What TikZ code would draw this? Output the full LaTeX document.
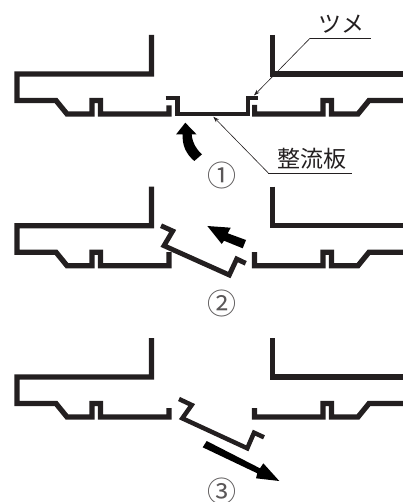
\documentclass[tikz,border=0pt]{standalone}
\usepackage{fontspec}
\usetikzlibrary{arrows.meta}
\newfontfamily\cjk{Noto Sans CJK JP}
\definecolor{ink}{HTML}{231F20}
\tikzset{
  wall/.style={draw=ink,line width=5.3pt,miter limit=10,line join=miter},
  flap/.style={draw=ink,line width=4.9pt,line join=miter},
  slit/.style={draw=white,line width=1.5pt},
  leader/.style={draw=ink,line width=0.6pt},
  leaderarrow/.style={draw=ink,line width=0.6pt,-{Stealth[length=6pt,width=4pt]}},
  bigarrow/.style={fill=black,draw=none},
  lab/.style={font=\cjk\fontsize{23}{24}\selectfont,text=ink,inner sep=0pt},
  num/.style={font=\cjk\fontsize{29}{30}\selectfont,text=ink!75,inner sep=0pt}
}
\newcommand{\frameparts}[3]{% y offset, left stub top, right stub top
  \begin{scope}[yshift=-#1pt]
    \draw[wall] (151.5,35) -- (151.5,74) -- (17,74) -- (17,100.5) -- (56,100.5) -- (67,114) -- (92,114) -- (92,100.5) -- (100.5,100.5) -- (100.5,114) -- (169,114) -- (169,#2);
    \draw[wall] (272.5,35) -- (272.5,74) -- (403,74);
    \draw[wall] (403,100.5) -- (369,100.5) -- (358,114) -- (331.5,114) -- (331.5,100.5) -- (323,100.5) -- (323,114) -- (254.5,114) -- (254.5,#3);
    \draw[slit] (96.3,104) -- (96.3,117.5);
    \draw[slit] (327.6,104) -- (327.6,117.5);
  \end{scope}
}
\begin{document}
\begin{tikzpicture}[x=1pt,y=-1pt]
\useasboundingbox (0,0) rectangle (403,502);
% panel 1
\frameparts{0}{105.5}{105}
\draw[slit,line width=2pt] (173.3,103) -- (173.3,118);
\draw[slit,line width=2pt] (251.2,103) -- (251.2,118);
\draw[flap] (165.5,98) -- (177.5,98) -- (177.5,114) -- (248,114) -- (248,98) -- (258,98);
\fill[bigarrow] (185.3,122.7) -- (196.7,134.5) -- (191.7,134.5) .. controls (192.5,143) and (196,149) .. (202,154.3) -- (194.3,161) .. controls (186,154) and (182,145) .. (182.7,134.5) -- (176,134.5) -- cycle;
\node[lab] (tsume) at (341.7,24) {ツメ};
\node[lab] (seiryu) at (311.7,158.5) {整流板};
\coordinate (t1) at (370.7,38.3);
\coordinate (t2) at (310,38.3);
\coordinate (t3) at (254,95.5);
\coordinate (s1) at (351.7,173);
\coordinate (s2) at (268.3,173);
\coordinate (s3) at (213.3,116.7);
\draw[leader] (t1) -- (t2);
\draw[leaderarrow] (t2) -- (t3);
\draw[leader] (s1) -- (s2);
\draw[leaderarrow] (s2) -- (s3);
\node[num] (n1) at (221.7,175.7) {①};
% panel 2
\frameparts{151.7}{100.5}{100.5}
\draw[flap] (161,225.7) -- (172.7,231) -- (164,245.7) -- (229.3,275) -- (236.7,259) -- (245.7,263.3);
\fill[bigarrow] (207.3,226) -- (230.7,227.7) -- (227.7,233.3) -- (246,240) -- (242.7,248.3) -- (224,240.7) -- (221.7,244) -- cycle;
\node[num] (n2) at (221.7,303) {②};
% panel 3
\frameparts{303}{105}{105}
\draw[flap,line width=4.5pt] (179,399) -- (191.7,405) -- (182.3,418.3) -- (247.3,448.3) -- (254,432.7) -- (264,437.3);
\fill[bigarrow] (206.7,441) -- (260,468.3) -- (263.3,463.3) -- (279.3,481) -- (256,478.3) -- (257.3,473.3) -- (202.7,447.3) -- cycle;
\node[num] (n3) at (221.7,491) {③};
\end{tikzpicture}
\end{document}
